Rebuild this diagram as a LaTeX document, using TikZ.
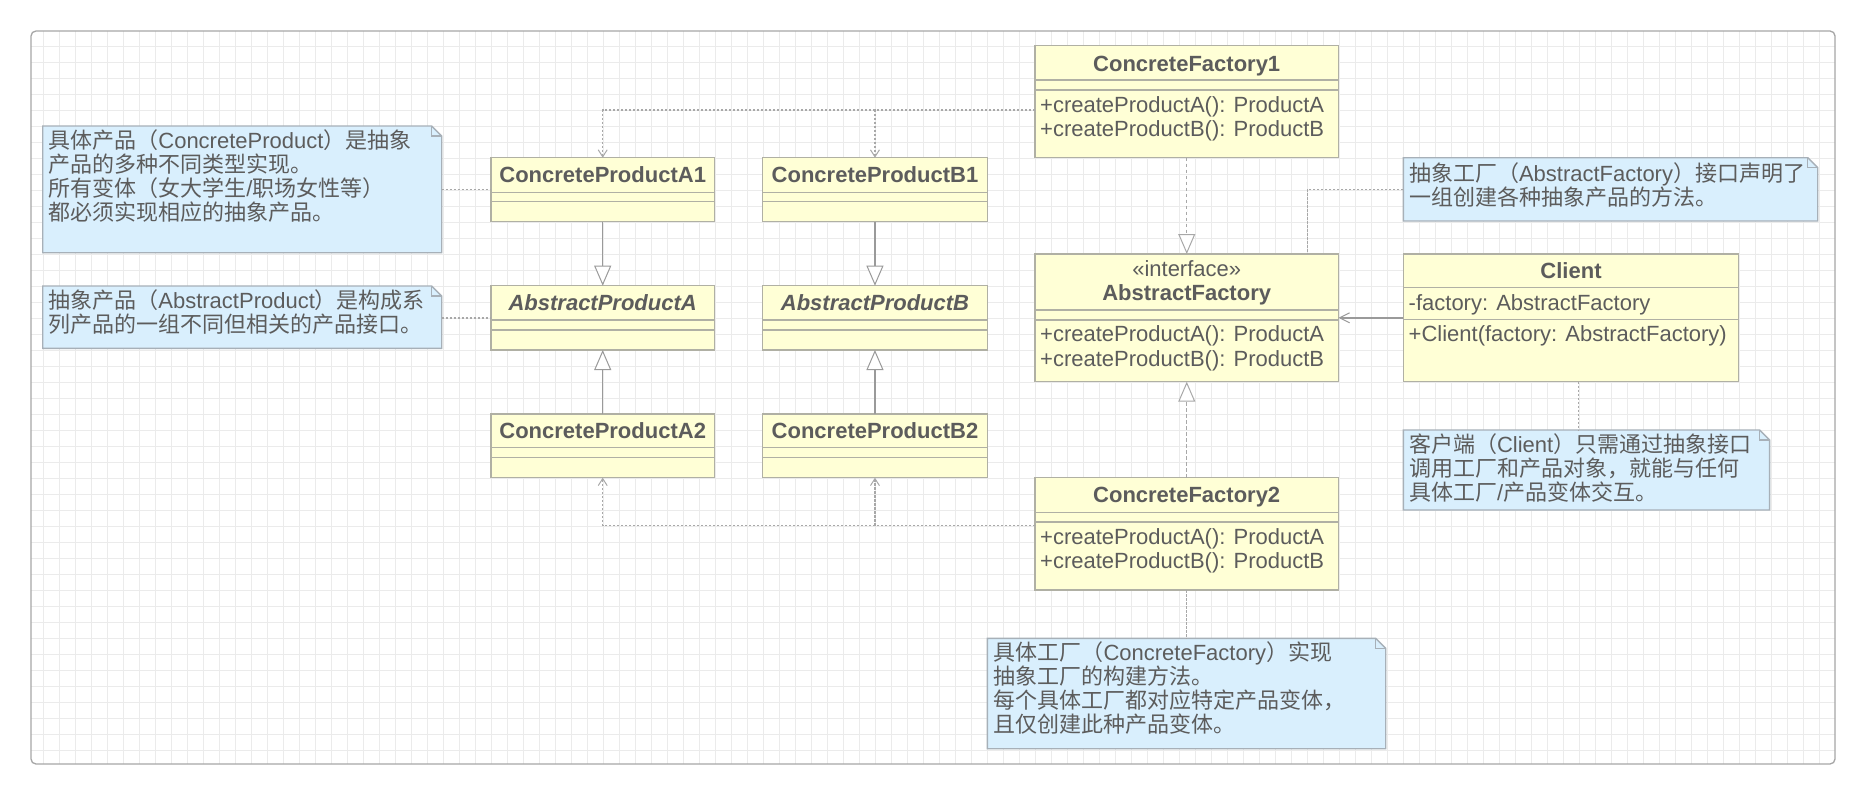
\documentclass[tikz,border=0pt]{standalone}
\usepackage{fontspec}
\setmainfont{Liberation Sans}
\newfontfamily\cjk{Noto Sans CJK SC}
\usetikzlibrary{arrows.meta,calc}
\definecolor{gridc}{HTML}{EBEBEB}
\definecolor{framec}{HTML}{A6A6A6}
\definecolor{clsfill}{HTML}{FFFFD6}
\definecolor{clsdraw}{HTML}{B0B0A4}
\definecolor{notefill}{HTML}{D9EFFD}
\definecolor{notedraw}{HTML}{A7B0B8}
\definecolor{txt}{HTML}{5C5C5C}
\definecolor{conn}{HTML}{9A9A9A}
\definecolor{dconn}{HTML}{A8A8A8}
\newcommand{\zh}[1]{{\cjk #1}}
\tikzset{
  classbox/.style={draw=clsdraw, fill=clsfill, line width=1.4pt, rectangle, inner sep=0pt, outer sep=0pt},
  sepline/.style={draw=clsdraw, line width=1.4pt},
  notebox/.style={rectangle, inner sep=0pt, outer sep=0pt},
  noteshape/.style={draw=notedraw, fill=notefill, line width=1.4pt},
  ttl/.style={text=txt, font=\fontsize{22}{24}\selectfont\bfseries, inner sep=0pt, anchor=base},
  ittl/.style={ttl, font=\fontsize{22}{24}\selectfont\bfseries\itshape},
  mtxt/.style={text=txt, font=\fontsize{22}{24}\selectfont, inner sep=0pt, anchor=base west},
  ctxt/.style={mtxt, anchor=base},
  genarrow/.style={draw=conn, line width=1.3pt, -{Triangle[length=20pt,width=17pt,fill=white,line width=1pt]}},
  realarrow/.style={genarrow, draw=dconn, dash pattern=on 3.5pt off 2.5pt},
  deparrow/.style={draw=dconn, line width=1.3pt, dash pattern=on 2.5pt off 1.5pt, -{Straight Barb[length=7pt,width=9pt,line width=1pt]}},
  assocarrow/.style={draw=conn, line width=1.3pt, -{Straight Barb[length=10pt,width=10pt,line width=1pt]}},
  noteline/.style={draw=dconn, line width=1.3pt, dash pattern=on 2.5pt off 1.5pt},
}
\newcommand{\umlbox}[7]{%
  \node[classbox, anchor=north west, minimum width={#4-#2}, minimum height={#7-#3}] (#1) at (#2,#3) {};
  \draw[sepline] (#2,#5) -- (#4,#5);
  \draw[sepline] (#2,#6) -- (#4,#6);
}
\newcommand{\umlnote}[5]{%
  \node[notebox, anchor=north west, minimum width={#4-#2}, minimum height={#5-#3}] (#1) at (#2,#3) {};
  \draw[noteshape] (#1.north west) -- ([xshift=-10pt]#1.north east) -- ([yshift=-10pt]#1.north east) -- (#1.south east) -- (#1.south west) -- cycle;
  \draw[draw=notedraw, line width=1.2pt] ([xshift=-10pt]#1.north east) -- ([xshift=-10pt,yshift=-10pt]#1.north east) -- ([yshift=-10pt]#1.north east);
}
\begin{document}
\begin{tikzpicture}[x=1pt,y=-1pt]
\useasboundingbox (0,0) rectangle (1866,795);
\fill[white] (0,0) rectangle (1866,795);
% grid
\begin{scope}
\clip[rounded corners=5pt] (31,31) rectangle (1835,764);
\fill[white] (31,31) rectangle (1835,764);
\foreach \i in {1,...,113} \draw[gridc, line width=1pt] ({27.3+16*\i},31) -- ({27.3+16*\i},764);
\foreach \j in {1,...,46} \draw[gridc, line width=1pt] (31,{30.7+16*\j}) -- (1835,{30.7+16*\j});
\end{scope}
\draw[framec, line width=1.3pt, rounded corners=5pt] (31,31) rectangle (1835,764);

% notes
\umlnote{N1}{42.7}{126}{441.7}{252.7}
\umlnote{N2}{42.7}{286}{441.7}{348.3}
\umlnote{NAF}{1403.3}{157.7}{1817.7}{221}
\umlnote{NCl}{1403.3}{430}{1769.6}{510}
\umlnote{NCF}{987.3}{638.3}{1385.7}{748.7}

% classes
\umlbox{A1}{491}{157.7}{714.4}{192.3}{201.7}{221.7}
\umlbox{B1}{762.6}{157.7}{987.3}{192.3}{201.7}{221.7}
\umlbox{AbsA}{491}{285.7}{714.4}{320}{330}{350}
\umlbox{AbsB}{762.6}{285.7}{987.3}{320}{330}{350}
\umlbox{A2}{491}{414}{714.4}{447.7}{457.7}{477.7}
\umlbox{B2}{762.6}{414}{987.3}{447.7}{457.7}{477.7}
\umlbox{CF1}{1035}{45.7}{1338.5}{80}{90}{157.7}
\umlbox{AF}{1035}{254}{1338.5}{310}{320}{381.7}
\umlbox{Client}{1403.3}{254}{1738.7}{287.7}{319.3}{381.7}
\umlbox{CF2}{1035}{477.7}{1338.5}{512.3}{522}{590}

% class texts
\node[ttl] (A1t) at (602.7,182.7) {ConcreteProductA1};
\node[ttl] (B1t) at (875,182.7) {ConcreteProductB1};
\node[ittl] (AbsAt) at (602.7,310) {AbstractProductA};
\node[ittl] (AbsBt) at (875,310) {AbstractProductB};
\node[ttl] (A2t) at (602.7,438.3) {ConcreteProductA2};
\node[ttl] (B2t) at (875,438.3) {ConcreteProductB2};
\node[ttl] (CF1t) at (1186.7,71) {ConcreteFactory1};
\node[mtxt] (CF1m1) at (1040,112) {+createProductA(): ProductA};
\node[mtxt] (CF1m2) at (1040,136) {+createProductB(): ProductB};
\node[ctxt] (AFs) at (1186.7,276) {«interface»};
\node[ttl] (AFt) at (1186.7,300) {AbstractFactory};
\node[mtxt] (AFm1) at (1040,341.7) {+createProductA(): ProductA};
\node[mtxt] (AFm2) at (1040,366) {+createProductB(): ProductB};
\node[ttl] (Clt) at (1571,278.3) {Client};
\node[mtxt] (Cla) at (1408.5,310) {-factory: AbstractFactory};
\node[mtxt] (Clm) at (1408.5,341.7) {+Client(factory: AbstractFactory)};
\node[ttl] (CF2t) at (1186.7,502.3) {ConcreteFactory2};
\node[mtxt] (CF2m1) at (1040,544) {+createProductA(): ProductA};
\node[mtxt] (CF2m2) at (1040,568) {+createProductB(): ProductB};

% note texts
\node[mtxt] (N1a) at (48.2,148.3) {\zh{具体产品（}ConcreteProduct\zh{）是抽象}};
\node[mtxt] (N1b) at (48.2,172.3) {\zh{产品的多种不同类型实现。}};
\node[mtxt] (N1c) at (48.2,196.3) {\zh{所有变体（女大学生}/\zh{职场女性等）}};
\node[mtxt] (N1d) at (48.2,220.3) {\zh{都必须实现相应的抽象产品。}};
\node[mtxt] (N2a) at (48.2,308.3) {\zh{抽象产品（}AbstractProduct\zh{）是构成系}};
\node[mtxt] (N2b) at (48.2,332.3) {\zh{列产品的一组不同但相关的产品接口。}};
\node[mtxt] (NAFa) at (1408.8,181.7) {\zh{抽象工厂（}AbstractFactory\zh{）接口声明了}};
\node[mtxt] (NAFb) at (1408.8,205.7) {\zh{一组创建各种抽象产品的方法。}};
\node[mtxt] (NCla) at (1408.8,452.7) {\zh{客户端（}Client\zh{）只需通过抽象接口}};
\node[mtxt] (NClb) at (1408.8,476.7) {\zh{调用工厂和产品对象，就能与任何}};
\node[mtxt] (NClc) at (1408.8,500.7) {\zh{具体工厂}/\zh{产品变体交互。}};
\node[mtxt] (NCFa) at (993.3,660) {\zh{具体工厂（}ConcreteFactory\zh{）实现}};
\node[mtxt] (NCFb) at (993.3,684) {\zh{抽象工厂的构建方法。}};
\node[mtxt] (NCFc) at (993.3,708) {\zh{每个具体工厂都对应特定产品变体，}};
\node[mtxt] (NCFd) at (993.3,732) {\zh{且仅创建此种产品变体。}};

% connectors
\coordinate (cf1o) at (1035,110);
\draw[deparrow] (cf1o) -| (A1.north);
\draw[deparrow] (cf1o) -| (B1.north);
\coordinate (cf2o) at (1035,525.7);
\draw[deparrow] (cf2o) -| (A2.south);
\draw[deparrow] (cf2o) -| (B2.south);
\draw[genarrow] (A1.south) -- (AbsA.north);
\draw[genarrow] (A2.north) -- (AbsA.south);
\draw[genarrow] (B1.south) -- (AbsB.north);
\draw[genarrow] (B2.north) -- (AbsB.south);
\draw[realarrow] (CF1.south) -- (AF.north);
\draw[realarrow] (CF2.north) -- (AF.south);
\draw[assocarrow] (Client.west) -- (AF.east);
\draw[noteline] (N1.east |- A1.west) -- (A1.west);
\draw[noteline] (N2.east |- AbsA.west) -- (AbsA.west);
\coordinate (afn) at (1307.2,254);
\draw[noteline] (NAF.west) -| (afn);
\coordinate (cln) at (1578.5,381.7);
\draw[noteline] (cln) -- (cln |- NCl.north);
\draw[noteline] (CF2.south) -- (CF2.south |- NCF.north);
\end{tikzpicture}
\end{document}
